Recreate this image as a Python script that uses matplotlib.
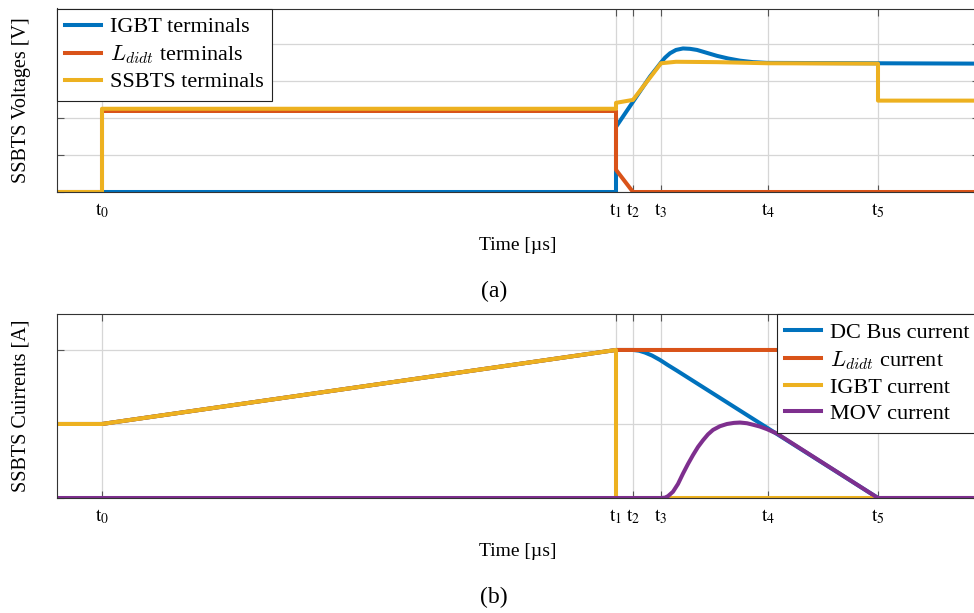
import numpy as np
import matplotlib
matplotlib.use('Agg')
import matplotlib.pyplot as plt
from matplotlib.font_manager import FontProperties

plt.rcParams['font.family'] = ['Liberation Serif', 'DejaVu Serif']
plt.rcParams['mathtext.fontset'] = 'stix'

# time marks (arbitrary units along the time axis)
t_ticks = [45, 559, 576, 604, 711, 821]
t_labels = [r'$\mathrm{t}_0$', r'$\mathrm{t}_1$', r'$\mathrm{t}_2$',
            r'$\mathrm{t}_3$', r'$\mathrm{t}_4$', r'$\mathrm{t}_5$']
t_end = 922

# (a) voltages
v_igbt_t = [0, 559, 559, 576, 593, 600, 604, 608, 613, 619, 626, 633, 640,
            650, 660, 671, 683, 696, 710, 922]
v_igbt = [0, 0, 1.76, 2.44, 3.12, 3.36, 3.5, 3.63, 3.75, 3.84, 3.88, 3.87,
          3.84, 3.76, 3.68, 3.61, 3.55, 3.51, 3.49, 3.47]

v_ldidt_t = [0, 45, 45, 559, 559, 576, 922]
v_ldidt = [0, 0, 2.19, 2.19, 0.6, 0, 0]

v_ssbts_t = [0, 45, 45, 559, 559, 576, 604, 619, 660, 711, 821, 821, 922]
v_ssbts = [0, 0, 2.25, 2.25, 2.41, 2.49, 3.48, 3.52, 3.51, 3.48, 3.47, 2.47, 2.47]

# (b) currents
i_dc_t = [0, 45, 559, 576, 582, 588, 595, 603, 611, 620, 821, 922]
i_dc = [1, 1, 2, 2, 1.99, 1.965, 1.925, 1.865, 1.795, 1.72, 0, 0]

i_ldidt_t = [0, 45, 559, 922]
i_ldidt = [1, 1, 2, 2]

i_igbt_t = [0, 45, 559, 559, 922]
i_igbt = [1, 1, 2, 0, 0]

i_mov_t = [0, 604, 608, 611, 616, 621, 626, 631, 636, 641, 646, 651, 656,
           663, 670, 677, 683, 690, 696, 703, 710, 720, 821, 922]
i_mov = [0, 0, 0.005, 0.025, 0.085, 0.19, 0.33, 0.46, 0.58, 0.69, 0.78, 0.86,
         0.92, 0.97, 1.0, 1.015, 1.02, 1.01, 0.99, 0.965, 0.93, 0.87, 0, 0]

blue = '#0072BD'
orange = '#D95319'
yellow = '#EDB120'
purple = '#7E2F8E'
lw = 2.9

fig = plt.figure(figsize=(9.74, 6.13), dpi=100)
W, H = 974., 613.
ax1 = fig.add_axes([57 / W, 1 - 192 / H, 922 / W, 183.5 / H])
ax2 = fig.add_axes([57 / W, 1 - 498 / H, 922 / W, 184 / H])


def style_axes(ax, ymax, yticks):
    ax.set_xlim(0, t_end)
    ax.set_ylim(0, ymax)
    ax.set_xticks(t_ticks)
    ax.set_xticklabels(t_labels, fontsize=14)
    ax.set_yticks(yticks)
    ax.set_yticklabels([])
    ax.grid(True, color='#d6d6d6', lw=0.9)
    ax.set_axisbelow(True)
    ax.tick_params(direction='in', length=5, width=0.8, color='#555555',
                   top=True, right=True, pad=7)
    for s in ax.spines.values():
        s.set_color('#333333')
        s.set_linewidth(0.8)
    ax.set_xlabel('Time [µs]', fontsize=14, labelpad=12)


def leg_font():
    return FontProperties(family=['Liberation Serif', 'DejaVu Serif'],
                          size=16, math_fontfamily='cm')


ax1.plot(v_igbt_t, v_igbt, color=blue, lw=lw, label='IGBT terminals')
ax1.plot(v_ldidt_t, v_ldidt, color=orange, lw=lw, label=r'$L_{didt}$ terminals')
ax1.plot(v_ssbts_t, v_ssbts, color=yellow, lw=lw, label='SSBTS terminals')
style_axes(ax1, 4.96, [0, 1, 2, 3, 4])
ax1.set_ylabel('SSBTS Voltages [V]', fontsize=14.5, labelpad=12)
leg1 = ax1.legend(loc='upper left', prop=leg_font(), frameon=True,
                  fancybox=False, edgecolor='#222222', framealpha=1,
                  borderaxespad=0, handlelength=1.6, handletextpad=0.4,
                  labelspacing=0.26, borderpad=0.38)
leg1.get_frame().set_linewidth(0.8)

ax2.plot(i_dc_t, i_dc, color=blue, lw=lw, label='DC Bus current')
ax2.plot(i_ldidt_t, i_ldidt, color=orange, lw=lw, label=r'$L_{didt}$ current')
ax2.plot(i_igbt_t, i_igbt, color=yellow, lw=lw, label='IGBT current')
ax2.plot(i_mov_t, i_mov, color=purple, lw=lw, label='MOV current')
style_axes(ax2, 2.486, [0, 1, 2])
ax2.set_ylabel('SSBTS Cuirrents [A]', fontsize=14.5, labelpad=12)
leg2 = ax2.legend(loc='upper left', bbox_to_anchor=(776.7 / W, 1 - 314 / H),
                  bbox_transform=fig.transFigure, prop=leg_font(),
                  frameon=True, fancybox=False, edgecolor='#222222',
                  framealpha=1, borderaxespad=0, handlelength=1.6,
                  handletextpad=0.4, labelspacing=0.26, borderpad=0.38)
leg2.get_frame().set_linewidth(0.8)

fig.text(494 / W, 1 - 291 / H, '(a)', fontsize=17, ha='center', va='center')
fig.text(494 / W, 1 - 597 / H, '(b)', fontsize=17, ha='center', va='center')

fig.savefig('out.png', dpi=100)
